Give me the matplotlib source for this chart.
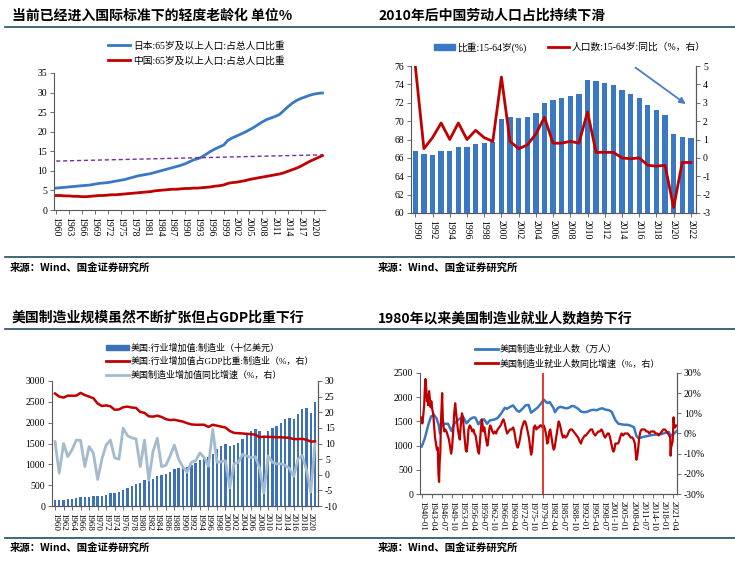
import matplotlib
matplotlib.use("Agg")
import matplotlib.pyplot as plt
from matplotlib.lines import Line2D
from matplotlib.patches import Patch

plt.rcParams['font.family'] = ['Liberation Serif', 'Noto Sans CJK SC', 'DejaVu Sans']
plt.rcParams['axes.unicode_minus'] = False

# ---- panel 1: 65+ share of population (%) ----
aging_years = list(range(1960, 2023))
japan_65 = [5.6, 5.7, 5.8, 5.9, 6.0, 6.1, 6.2, 6.3, 6.4, 6.6,
            6.8, 6.9, 7.0, 7.2, 7.4, 7.6, 7.8, 8.1, 8.4, 8.7,
            8.9, 9.1, 9.3, 9.6, 9.9, 10.2, 10.5, 10.8, 11.1, 11.4,
            11.8, 12.3, 12.8, 13.1, 13.6, 14.3, 15.0, 15.6, 16.1, 16.6,
            17.8, 18.4, 18.9, 19.4, 19.9, 20.5, 21.1, 21.8, 22.5, 23.1,
            23.5, 23.9, 24.4, 25.4, 26.4, 27.3, 28.0, 28.5, 28.9, 29.3,
            29.6, 29.8, 29.9]
china_65 = [3.7, 3.7, 3.6, 3.6, 3.5, 3.5, 3.4, 3.4, 3.5, 3.6,
            3.7, 3.7, 3.8, 3.9, 3.9, 4.0, 4.1, 4.2, 4.3, 4.4,
            4.5, 4.6, 4.7, 4.9, 5.0, 5.1, 5.2, 5.3, 5.3, 5.4,
            5.5, 5.5, 5.6, 5.6, 5.7, 5.8, 5.9, 6.1, 6.2, 6.4,
            6.8, 7.0, 7.1, 7.3, 7.5, 7.8, 8.0, 8.2, 8.4, 8.6,
            8.8, 9.0, 9.2, 9.5, 9.9, 10.3, 10.7, 11.2, 11.8, 12.4,
            12.9, 13.4, 13.9]
aging_ref_years = [1960, 2022]
aging_ref = [12.5, 14.1]

# ---- panel 2: China working-age population ----
labor_years = list(range(1990, 2023))
share_15_64 = [66.8, 66.4, 66.3, 66.7, 66.7, 67.2, 67.2, 67.5, 67.6, 67.7,
               70.2, 70.4, 70.3, 70.4, 70.9, 72.0, 72.3, 72.5, 72.7, 73.0,
               74.5, 74.4, 74.1, 73.9, 73.4, 73.0, 72.5, 71.8, 71.2, 70.7,
               68.6, 68.3, 68.2]
yoy_15_64 = [5.0, 0.5, 1.1, 1.9, 1.0, 1.9, 1.0, 1.5, 1.1, 0.9,
             4.4, 0.9, 0.5, 0.7, 1.3, 2.2, 0.8, 0.8, 0.9, 0.8,
             2.5, 0.3, 0.3, 0.3, 0.0, -0.05, 0.0, -0.4, -0.45, -0.4,
             -2.7, -0.25, -0.25]

# ---- panel 3: US manufacturing value added ----
mfg_years = list(range(1960, 2022))
mfg_va = [140, 140, 150, 160, 170, 190, 205, 210, 225, 235,
          235, 245, 275, 305, 315, 330, 380, 430, 485, 540,
          555, 620, 610, 660, 730, 740, 770, 810, 880, 920,
          940, 940, 980, 1030, 1100, 1150, 1180, 1250, 1380, 1450,
          1500, 1440, 1460, 1510, 1600, 1710, 1800, 1840, 1800, 1690,
          1800, 1870, 1930, 1990, 2080, 2120, 2100, 2200, 2330, 2360,
          2240, 2490]
mfg_gdp_share = [26.0, 25.0, 24.7, 25.3, 25.3, 25.3, 26.2, 25.5, 25.0, 24.5,
                 22.8, 22.0, 22.2, 21.9, 20.8, 20.9, 21.6, 21.8, 21.5, 21.4,
                 20.1, 19.8, 18.7, 18.6, 18.9, 18.5, 17.8, 17.5, 17.6, 17.3,
                 17.0, 16.5, 16.1, 16.0, 16.0, 16.0, 15.3, 16.0, 15.7, 15.4,
                 15.1, 14.0, 13.4, 13.3, 13.2, 13.1, 13.0, 12.8, 12.0, 12.2,
                 12.1, 12.1, 12.0, 12.0, 11.9, 11.8, 11.4, 11.4, 11.5, 11.2,
                 10.6, 10.7]
mfg_va_yoy = [10.6, 0.5, 10.0, 5.8, 8.0, 11.1, 11.0, 2.6, 9.0, 7.0,
              -1.5, 5.0, 9.5, 11.1, 5.4, 5.0, 14.9, 12.5, 11.8, 11.5,
              2.6, 11.1, -1.7, 7.5, 11.7, 2.6, 3.0, 6.0, 9.5, 5.0,
              2.5, 0.8, 4.0, 4.5, 7.0, 5.5, 2.7, 14.5, 4.0, 4.2,
              4.5, -4.2, 3.5, 4.0, 6.5, 6.0, 5.5, 5.8, 2.0, -5.8,
              6.0, 4.0, 3.5, 3.5, 3.0, 2.0, -0.5, 5.0, 6.2, 1.5,
              -5.5, 10.0]

# ---- panel 4: US manufacturing employment ----
emp_t = [1940.0, 1941.0, 1942.0, 1943.0, 1943.9, 1944.8, 1945.5, 1945.9, 1946.5, 1947.5,
         1948.5, 1949.6, 1950.5, 1951.5, 1953.3, 1954.5, 1955.5, 1956.5, 1957.3, 1958.3,
         1959.3, 1960.2, 1961.1, 1962.0, 1963.5, 1964.5, 1965.5, 1966.8, 1967.5, 1968.5,
         1969.5, 1970.8, 1971.5, 1972.5, 1973.5, 1974.5, 1975.3, 1976.5, 1977.5, 1978.5,
         1979.4, 1980.5, 1981.3, 1982.5, 1983.0, 1984.0, 1984.8, 1985.5, 1986.5, 1987.5,
         1988.5, 1989.3, 1990.5, 1991.5, 1992.5, 1993.5, 1994.5, 1995.5, 1996.5, 1997.5,
         1998.3, 1999.5, 2000.5, 2001.3, 2002.5, 2003.5, 2004.5, 2005.5, 2006.5, 2007.5,
         2008.5, 2009.3, 2010.0, 2011.5, 2013.0, 2014.5, 2016.0, 2017.5, 2019.0, 2019.8,
         2020.3, 2020.8, 2021.5, 2022.3]
emp = [980, 1150, 1400, 1600, 1640, 1560, 1420, 1250, 1430, 1450,
       1450, 1300, 1450, 1520, 1600, 1460, 1540, 1580, 1580, 1440,
       1530, 1540, 1450, 1520, 1540, 1570, 1650, 1780, 1760, 1800,
       1830, 1720, 1700, 1760, 1830, 1840, 1680, 1740, 1790, 1870,
       1950, 1880, 1900, 1780, 1690, 1780, 1800, 1790, 1770, 1780,
       1820, 1810, 1760, 1700, 1690, 1700, 1730, 1740, 1730, 1760,
       1770, 1740, 1730, 1700, 1530, 1450, 1440, 1430, 1430, 1410,
       1380, 1200, 1150, 1180, 1200, 1220, 1230, 1240, 1270, 1280,
       1200, 1220, 1250, 1300]
emp_yoy_t = [1940.0, 1940.2, 1940.5, 1940.8, 1941.0, 1941.2, 1941.4, 1941.7, 1941.9, 1942.1,
             1942.4, 1942.6, 1942.9, 1943.1, 1943.4, 1943.7, 1944.0, 1944.3, 1944.6, 1944.9,
             1945.2, 1945.4, 1945.6, 1945.8, 1946.0, 1946.2, 1946.4, 1946.6, 1946.8, 1947.0,
             1947.3, 1947.6, 1948.0, 1948.4, 1948.8, 1949.2, 1949.5, 1949.8, 1950.2, 1950.5,
             1950.8, 1951.0, 1951.3, 1951.6, 1952.0, 1952.3, 1952.6, 1953.0, 1953.3, 1953.6,
             1953.9, 1954.2, 1954.5, 1954.8, 1955.1, 1955.5, 1955.9, 1956.3, 1956.7, 1957.0,
             1957.4, 1957.8, 1958.2, 1958.5, 1958.8, 1959.1, 1959.4, 1959.6, 1959.9, 1960.2,
             1960.6, 1960.9, 1961.2, 1961.5, 1961.8, 1962.1, 1962.4, 1962.8, 1963.2, 1963.6,
             1964.0, 1964.5, 1965.0, 1965.5, 1966.0, 1966.4, 1966.8, 1967.2, 1967.6, 1968.0,
             1968.5, 1969.0, 1969.5, 1969.9, 1970.3, 1970.7, 1971.0, 1971.4, 1971.8, 1972.2,
             1972.6, 1973.0, 1973.4, 1973.8, 1974.2, 1974.6, 1975.0, 1975.3, 1975.6, 1975.9,
             1976.2, 1976.6, 1977.0, 1977.4, 1977.8, 1978.2, 1978.6, 1979.0, 1979.4, 1979.8,
             1980.2, 1980.5, 1980.8, 1981.2, 1981.5, 1981.9, 1982.3, 1982.6, 1982.9, 1983.2,
             1983.6, 1983.9, 1984.2, 1984.5, 1984.8, 1985.2, 1985.6, 1986.0, 1986.5, 1987.0,
             1987.5, 1988.0, 1988.5, 1989.0, 1989.5, 1990.0, 1990.5, 1991.0, 1991.4, 1991.8,
             1992.2, 1992.6, 1993.0, 1993.5, 1994.0, 1994.5, 1995.0, 1995.5, 1996.0, 1996.5,
             1997.0, 1997.5, 1998.0, 1998.4, 1998.8, 1999.2, 1999.6, 2000.0, 2000.4, 2000.8,
             2001.2, 2001.6, 2001.9, 2002.2, 2002.5, 2002.9, 2003.3, 2003.7, 2004.0, 2004.5,
             2005.0, 2005.5, 2006.0, 2006.5, 2007.0, 2007.5, 2008.0, 2008.4, 2008.8, 2009.1,
             2009.3, 2009.6, 2009.9, 2010.2, 2010.6, 2011.0, 2011.5, 2012.0, 2012.5, 2013.0,
             2013.5, 2014.0, 2014.5, 2015.0, 2015.5, 2016.0, 2016.5, 2017.0, 2017.5, 2018.0,
             2018.5, 2019.0, 2019.5, 2019.9, 2020.2, 2020.35, 2020.5, 2020.8, 2021.0, 2021.3,
             2021.5, 2021.8, 2022.0, 2022.3]
emp_yoy = [8, 5, 9, 14, 22, 27, 24, 16, 19, 14,
           21, 18, 13, 16, 12, 10, 4, -2, -5, -8,
           -7, -20, -24, -14, -10, 5, 12, 20, 8, 4,
           1, 2, 1, -1, -3, -7, -10, -7, 2, 10,
           15, 12, 7, 3, -1, -3, 4, 10, 8, 2,
           -3, -8, -9, -5, 2, 4, 3, 1, 2, 0,
           -1, -5, -9, -10, -4, 2, 7, 5, 1, 3,
           -1, -4, -6, -3, 2, 4, 3, 1, 0, 1,
           0, 2, 3, 4, 6, 7, 5, 2, 0, 1,
           2, 2, 3, 1, -3, -6, -7, -5, -2, 2,
           4, 6, 6, 4, 1, -2, -7, -10.5, -9, -3,
           3, 4, 2, 3, 3, 4, 4, 3, 4, 2,
           -1, -5, -4, 1, 2, -2, -6, -8, -7, -4,
           0, 3, 6, 5, 3, 0, -2, -1, -2, -1,
           1, 2, 2, 1, 0, -1, -2, -4, -5, -3,
           -2, -1, -1, 0, 1, 2, 2, 0, -1, 0,
           1, 1, 2, 1, -1, -2, -1, 0, 0, -2,
           -5, -8, -9, -8, -5, -5, -5, -4, -2, 0,
           -1, 0, 0, 0, -1, -2, -2, -3, -5, -10,
           -13, -11, -7, -2, 1, 2, 2, 2, 1, 1,
           0, 1, 1, 1, 0, 0, -1, 0, 1, 2,
           2, 1, 0, -1, -2, -11, -7, -5, -4, 8,
           3, 3, 4, 4]
emp_marker_year = 1979.0
emp_tick_labels = ['1940-01', '1943-04', '1946-07', '1949-10', '1953-01', '1956-04',
                   '1959-07', '1962-10', '1966-01', '1969-04', '1972-07', '1975-10',
                   '1979-01', '1982-04', '1985-07', '1988-10', '1992-01', '1995-04',
                   '1998-07', '2001-10', '2005-01', '2008-04', '2011-07', '2014-10',
                   '2018-01', '2021-04']

W, H = 735, 563
BLUE = '#3A78C3'
RED = '#C00000'
LINE_DARK = '#1F4E5F'
CJK = ['Noto Sans CJK SC', 'DejaVu Sans']


def rect(x0, y0, x1, y1):
    return [x0 / W, 1 - y1 / H, (x1 - x0) / W, (y1 - y0) / H]


def style_axes(ax, right=False):
    ax.spines['top'].set_visible(False)
    ax.spines['right'].set_visible(right)
    for s in ax.spines.values():
        s.set_color('#595959')
        s.set_linewidth(0.8)
    ax.tick_params(labelsize=7, length=3, width=0.6, color='#595959', pad=2)
    ax.set_facecolor('none')


def frame_text(x, y, title):
    fig.text(x / W, 1 - y / H, title, family=CJK, fontsize=10,
             fontweight='bold', va='center', ha='left')


fig = plt.figure(figsize=(W / 100, H / 100), dpi=100)

# rules and titles
for yy in (27, 257, 329, 538):
    fig.add_artist(Line2D([5 / W, 1], [1 - yy / H, 1 - yy / H],
                          color=LINE_DARK, lw=1.2, transform=fig.transFigure))
frame_text(12, 16, '当前已经进入国际标准下的轻度老龄化 单位%')
frame_text(378, 16, '2010年后中国劳动人口占比持续下滑')
frame_text(12, 318, '美国制造业规模虽然不断扩张但占GDP比重下行')
frame_text(378, 318, '1980年以来美国制造业就业人数趋势下行')
for x, y in ((10, 268), (378, 268), (10, 548), (378, 548)):
    fig.text(x / W, 1 - y / H, '来源：Wind、国金证券研究所', family=CJK,
             fontsize=7.5, fontweight='bold', va='center')

# ---- panel 1 ----
ax1 = fig.add_axes(rect(54, 73, 325, 210))
style_axes(ax1)
ax1.plot(aging_years, japan_65, color=BLUE, lw=2)
ax1.plot(aging_years, china_65, color=RED, lw=2)
ax1.plot(aging_ref_years, aging_ref, color='#7030A0', lw=1, ls='--', dashes=(3, 2))
ax1.set_ylim(0, 35)
ax1.set_yticks(range(0, 36, 5))
ax1.set_xlim(1959.5, 2022.6)
ax1.set_xticks(range(1960, 2021, 3))
ax1.tick_params(axis='x', labelrotation=270)
fig.legend([Line2D([], [], color=BLUE, lw=2), Line2D([], [], color=RED, lw=2)],
           ['日本:65岁及以上人口:占总人口比重', '中国:65岁及以上人口:占总人口比重'],
           loc='upper left', bbox_to_anchor=(104 / W, 1 - 37 / H), frameon=False,
           fontsize=7, handlelength=2.3, labelspacing=0.6, handletextpad=0.3,
           borderaxespad=0)

# ---- panel 2 ----
ax2 = fig.add_axes(rect(411, 66, 696, 213))
style_axes(ax2, right=True)
ax2.bar(labor_years, share_15_64, width=0.62, color=BLUE)
ax2.set_ylim(60, 76)
ax2.set_yticks(range(60, 77, 2))
ax2.set_xlim(1989.5, 2022.6)
ax2.set_xticks(range(1990, 2023, 2))
ax2.tick_params(axis='x', labelrotation=270)
ax2r = ax2.twinx()
style_axes(ax2r, right=True)
ax2r.spines['left'].set_visible(False)
ax2r.plot(labor_years, yoy_15_64, color=RED, lw=2)
ax2r.set_ylim(-3, 5)
ax2r.set_yticks(range(-3, 6))
ax2r.annotate('', xy=(0.972, 0.73), xytext=(0.78, 1.0), xycoords='axes fraction',
              arrowprops=dict(arrowstyle='-|>', color='#4A7EC0', lw=1.3,
                              mutation_scale=9))
fig.legend([Patch(color=BLUE), Line2D([], [], color=RED, lw=2)],
           ['比重:15-64岁(%)', '人口数:15-64岁:同比（%，右）'],
           loc='upper left', bbox_to_anchor=(430 / W, 1 - 38 / H), frameon=False,
           fontsize=7, ncol=2, handlelength=2.2, handleheight=0.6,
           handletextpad=0.2, columnspacing=2.2, borderaxespad=0)

# ---- panel 3 ----
ax3 = fig.add_axes(rect(52, 381, 318, 506))
style_axes(ax3, right=True)
ax3.bar(mfg_years, mfg_va, width=0.55, color='#3D72B8')
ax3.set_ylim(0, 3000)
ax3.set_yticks(range(0, 3001, 500))
ax3.set_xlim(1959.3, 2021.7)
ax3.set_xticks(range(1960, 2021, 2))
ax3.tick_params(axis='x', labelrotation=270, labelsize=6.5)
ax3r = ax3.twinx()
style_axes(ax3r, right=True)
ax3r.spines['left'].set_visible(False)
ax3r.plot(mfg_years, mfg_va_yoy, color='#A3BBCD', lw=2)
ax3r.plot(mfg_years, mfg_gdp_share, color=RED, lw=1.8)
ax3r.set_ylim(-10, 30)
ax3r.set_yticks(range(-10, 31, 5))
fig.legend([Patch(color='#3D72B8'), Line2D([], [], color=RED, lw=2),
            Line2D([], [], color='#A3BBCD', lw=2)],
           ['美国:行业增加值:制造业（十亿美元）', '美国:行业增加值占GDP比重:制造业（%，右）',
            '美国制造业增加值同比增速（%，右）'],
           loc='upper left', bbox_to_anchor=(102 / W, 1 - 340 / H), frameon=False,
           fontsize=6.5, handlelength=2.6, handleheight=0.5, labelspacing=0.45,
           handletextpad=0.2, borderaxespad=0)

# ---- panel 4 ----
ax4 = fig.add_axes(rect(420, 373, 677, 494))
style_axes(ax4, right=True)
ax4.plot(emp_t, emp, color='#3A78C3', lw=1.8)
ax4.set_ylim(0, 2500)
ax4.set_yticks(range(0, 2501, 500))
ax4.set_xlim(1939.45, 2022.4)
tick_pos = [int(s[:4]) + (int(s[5:]) - 1) / 12 for s in emp_tick_labels]
ax4.set_xticks(tick_pos)
ax4.set_xticklabels(emp_tick_labels, rotation=270, fontsize=6.5)
ax4r = ax4.twinx()
style_axes(ax4r, right=True)
ax4r.spines['left'].set_visible(False)
ax4r.plot(emp_yoy_t, emp_yoy, color=RED, lw=1.6)
ax4r.axvline(emp_marker_year, color='#E8251F', lw=1.3)
ax4r.set_ylim(-30, 30)
ax4r.set_yticks(range(-30, 31, 10))
ax4r.set_yticklabels([f'{v}%' for v in range(-30, 31, 10)])
fig.legend([Line2D([], [], color='#3A78C3', lw=2), Line2D([], [], color=RED, lw=2)],
           ['美国制造业就业人数（万人）', '美国制造业就业人数同比增速（%，右）'],
           loc='upper left', bbox_to_anchor=(471 / W, 1 - 341 / H), frameon=False,
           fontsize=6.5, handlelength=2.6, labelspacing=0.6, handletextpad=0.2,
           borderaxespad=0)

fig.savefig('out.png', dpi=100)
